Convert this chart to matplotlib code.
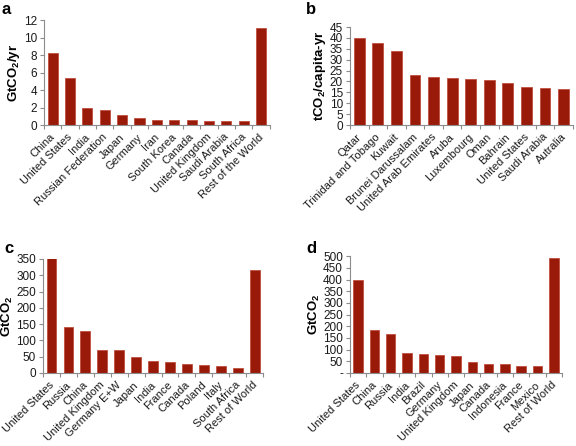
import numpy as np
import matplotlib.pyplot as plt
from matplotlib.ticker import FuncFormatter, FixedLocator

plt.rcParams['font.family'] = ['Liberation Sans', 'DejaVu Sans']
plt.rcParams['mathtext.fontset'] = 'custom'
plt.rcParams['mathtext.rm'] = 'Liberation Sans:bold'
plt.rcParams['mathtext.bf'] = 'Liberation Sans:bold'
plt.rcParams['mathtext.default'] = 'rm'

# a - annual emissions
a_countries = ["China", "United States", "India", "Russian Federation", "Japan", "Germany", "Iran",
               "South Korea", "Canada", "United Kingdom", "Saudi Arabia", "South Africa", "Rest of the World"]
a_values = [8.2, 5.4, 2.0, 1.7, 1.2, 0.75, 0.6, 0.55, 0.55, 0.48, 0.47, 0.47, 11.1]

# b - per capita emissions
b_countries = ["Qatar", "Trinidad and Tobago", "Kuwait", "Brunei Darussalam", "United Arab Emirates",
               "Aruba", "Luxembourg", "Oman", "Bahrain", "United States", "Saudi Arabia", "Autralia"]
b_values = [40.1, 37.6, 34.0, 23.0, 22.0, 21.6, 21.1, 20.6, 19.1, 17.3, 16.9, 16.6]

# c - cumulative fossil emissions
c_countries = ["United States", "Russia", "China", "United Kingdom", "Germany E+W", "Japan", "India",
               "France", "Canada", "Poland", "Italy", "South Africa", "Rest of World"]
c_values = [354, 142, 130, 72, 70, 48, 37, 35, 27, 23, 20, 16, 315]

# d - cumulative total emissions
d_countries = ["United States", "China", "Russia", "India", "Brazil", "Germany", "United Kingdom",
               "Japan", "Canada", "Indonesia", "France", "Mexico", "Rest of World"]
d_values = [400, 185, 165, 85, 80, 77, 72, 47, 40, 37, 32, 28, 492]

bar_col = '#9a1a0a'
edge_col = '#c0503f'
axis_col = '#8c8c8c'
txt_col = '#1a1a1a'

fig = plt.figure(figsize=(5.76, 4.46), dpi=100)


def panel(rect, names, vals, ymax, ystep, ylabel, letter, letter_xy, dash_zero=False):
    ax = fig.add_axes(rect)
    x = np.arange(len(names))
    ax.bar(x, vals, width=0.58, color=bar_col, edgecolor=edge_col, linewidth=0.6)
    ax.set_xlim(-0.5, len(names) - 0.5)
    ax.set_ylim(0, ymax)
    ax.set_yticks(np.arange(0, ymax + ystep / 2, ystep))
    if dash_zero:
        ax.yaxis.set_major_formatter(FuncFormatter(lambda v, p: '-' if v == 0 else '%d' % v))
    ax.set_xticks(x)
    ax.set_xticklabels(names, rotation=45, ha='right', va='center_baseline',
                       rotation_mode='anchor', fontsize=8, color=txt_col)
    ax.xaxis.set_minor_locator(FixedLocator(np.arange(-0.5, len(names), 1.0)))
    ax.tick_params(axis='x', which='major', length=0, pad=7)
    ax.tick_params(axis='x', which='minor', length=3, color=axis_col, width=0.8)
    ax.tick_params(axis='y', labelsize=8.5, labelcolor=txt_col, length=3, color=axis_col, width=0.8, pad=2)
    for s in ['top', 'right']:
        ax.spines[s].set_visible(False)
    for s in ['left', 'bottom']:
        ax.spines[s].set_color(axis_col)
        ax.spines[s].set_linewidth(0.8)
    ax.set_ylabel(ylabel, fontsize=9.5, fontweight='bold', labelpad=1)
    fig.text(letter_xy[0], letter_xy[1], letter, fontsize=12, fontweight='bold', va='top')
    return ax


panel([0.0764, 0.7197, 0.392, 0.2354], a_countries, a_values, 12, 2,
      "GtCO$_2$/yr", "a", (0.003, 0.995))
panel([0.6076, 0.7197, 0.387, 0.2197], b_countries, b_values, 45, 5,
      "tCO$_2$/capita-yr", "b", (0.532, 0.995))
panel([0.0747, 0.1637, 0.382, 0.2556], c_countries, c_values, 350, 50,
      "GtCO$_2$", "c", (0.007, 0.46))
panel([0.6076, 0.1637, 0.368, 0.262], d_countries, d_values, 500, 50,
      "GtCO$_2$", "d", (0.532, 0.46), dash_zero=True)

fig.savefig('out.png', dpi=100)
